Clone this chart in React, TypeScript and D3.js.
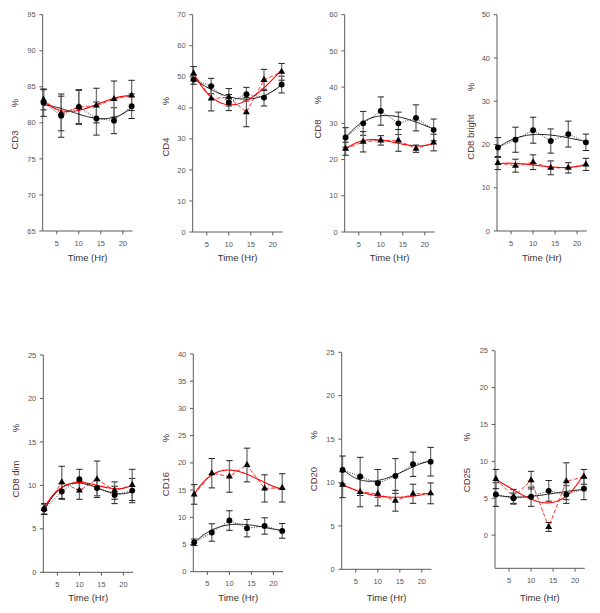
import React from 'react';
import * as d3 from 'd3';

// ---------- DATA ----------
const times = [2, 6, 10, 14, 18, 22];
const xTicks = [5, 10, 15, 20];
const panelNames = ['CD3', 'CD4', 'CD8', 'CD8 bright', 'CD8 dim', 'CD16', 'CD20', 'CD25'];
const yDomains = [[65, 95], [0, 70], [0, 60], [0, 50], [0, 25], [0, 40], [0, 25], [-4.5, 25]];
const yTickValues = [
  [65, 70, 75, 80, 85, 90, 95],
  [0, 10, 20, 30, 40, 50, 60, 70],
  [0, 10, 20, 30, 40, 50, 60],
  [0, 10, 20, 30, 40, 50],
  [0, 5, 10, 15, 20, 25],
  [0, 5, 10, 15, 20, 25, 30, 35, 40],
  [0, 5, 10, 15, 20, 25],
  [0, 5, 10, 15, 20, 25],
];

// triangle series (red lines) and circle series (black lines) – mean and error
const cd3Tri = [83.2, 81.3, 82.2, 82.4, 83.3, 83.8];
const cd3TriErr = [1.4, 2.4, 2.4, 2.4, 2.5, 2.1];
const cd3Circ = [82.8, 81.0, 82.2, 80.6, 80.3, 82.3];
const cd3CircErr = [1.9, 3.0, 2.3, 2.3, 1.8, 1.7];

const cd4Tri = [51.1, 43.0, 43.4, 38.6, 49.0, 51.6];
const cd4TriErr = [2.2, 4.0, 2.8, 4.7, 3.4, 2.7];
const cd4Circ = [49.1, 47.0, 41.7, 44.4, 43.3, 47.5];
const cd4CircErr = [1.5, 2.5, 2.6, 2.2, 2.7, 2.7];

const cd8Tri = [23.0, 24.9, 25.3, 25.3, 23.0, 24.7];
const cd8TriErr = [1.8, 2.8, 1.3, 3.0, 1.0, 2.3];
const cd8Circ = [26.1, 30.0, 33.4, 30.0, 31.5, 28.2];
const cd8CircErr = [2.7, 3.3, 3.9, 3.1, 3.6, 3.0];

const cd8bTri = [15.7, 15.1, 15.9, 14.6, 14.6, 15.4];
const cd8bTriErr = [1.5, 1.5, 1.7, 1.6, 1.2, 1.4];
const cd8bCirc = [19.3, 21.1, 23.3, 20.8, 22.4, 20.5];
const cd8bCircErr = [2.3, 2.9, 3.0, 2.8, 3.0, 1.9];

const cd8dTri = [7.3, 10.35, 9.4, 10.7, 9.4, 10.05];
const cd8dTriErr = [0.6, 1.85, 1.0, 2.1, 1.0, 1.8];
const cd8dCirc = [7.25, 9.3, 10.7, 9.7, 8.9, 9.4];
const cd8dCircErr = [0.6, 0.9, 1.15, 0.9, 1.0, 1.4];

const cd16Tri = [14.2, 18.1, 17.5, 19.6, 15.3, 15.4];
const cd16TriErr = [1.8, 2.7, 2.9, 3.1, 2.5, 2.6];
const cd16Circ = [5.4, 7.2, 9.4, 8.0, 8.4, 7.5];
const cd16CircErr = [0.6, 1.6, 1.8, 1.6, 1.5, 1.35];

const cd20Tri = [9.75, 8.9, 8.7, 7.9, 8.7, 8.75];
const cd20TriErr = [1.5, 1.7, 1.4, 1.2, 1.1, 1.2];
const cd20Circ = [11.45, 10.7, 9.9, 10.75, 12.1, 12.4];
const cd20CircErr = [1.6, 2.2, 1.6, 2.0, 1.4, 1.65];

const cd25Tri = [7.6, 5.2, 7.45, 1.1, 7.3, 7.9];
const cd25TriErr = [1.3, 1.0, 1.2, 0.6, 2.5, 1.0];
const cd25Circ = [5.5, 5.0, 5.2, 6.0, 5.5, 6.3];
const cd25CircErr = [1.6, 0.7, 1.3, 1.4, 1.2, 1.5];

const triMeans = [cd3Tri, cd4Tri, cd8Tri, cd8bTri, cd8dTri, cd16Tri, cd20Tri, cd25Tri];
const triErrs = [cd3TriErr, cd4TriErr, cd8TriErr, cd8bTriErr, cd8dTriErr, cd16TriErr, cd20TriErr, cd25TriErr];
const circMeans = [cd3Circ, cd4Circ, cd8Circ, cd8bCirc, cd8dCirc, cd16Circ, cd20Circ, cd25Circ];
const circErrs = [cd3CircErr, cd4CircErr, cd8CircErr, cd8bCircErr, cd8dCircErr, cd16CircErr, cd20CircErr, cd25CircErr];

// ---------- LAYOUT ----------
const X_DOMAIN = [1.8, 22.2];
const PANEL_W = 89.8;
const layout = [
  { x0: 42.7, top: 14.7, bottom: 231, nameX: 15, nameY: 140, pctY: 103, timeY: 261 },
  { x0: 192.7, top: 14.7, bottom: 232, nameX: 166, nameY: 147, pctY: 101, timeY: 261 },
  { x0: 344.7, top: 14.7, bottom: 232, nameX: 318, nameY: 129, pctY: 100, timeY: 261 },
  { x0: 497, top: 14.7, bottom: 231, nameX: 470.7, nameY: 137, pctY: 87, timeY: 261 },
  { x0: 43.3, top: 355, bottom: 572.3, nameX: 16, nameY: 479, pctY: 428, timeY: 601 },
  { x0: 193.3, top: 354, bottom: 571.7, nameX: 166, nameY: 484, pctY: 438, timeY: 601 },
  { x0: 341.7, top: 352.3, bottom: 569.3, nameX: 314, nameY: 479, pctY: 435, timeY: 601 },
  { x0: 495, top: 350.7, bottom: 568.3, nameX: 467, nameY: 480, pctY: 437, timeY: 601 },
];

const FONT = '"Liberation Sans", Arial, sans-serif';

// least-squares cubic fit, derived from the data
function cubicFit(xs: number[], ys: number[]) {
  const n = 4;
  const A = Array.from({ length: n }, () => Array(n).fill(0));
  const b = Array(n).fill(0);
  xs.forEach((x, i) => {
    const u = (x - 12) / 10;
    const p = [1, u, u * u, u * u * u];
    for (let r = 0; r < n; r++) {
      for (let c = 0; c < n; c++) A[r][c] += p[r] * p[c];
      b[r] += p[r] * ys[i];
    }
  });
  for (let i = 0; i < n; i++) {
    let piv = i;
    for (let r = i + 1; r < n; r++) if (Math.abs(A[r][i]) > Math.abs(A[piv][i])) piv = r;
    [A[i], A[piv]] = [A[piv], A[i]];
    [b[i], b[piv]] = [b[piv], b[i]];
    for (let r = i + 1; r < n; r++) {
      const f = A[r][i] / A[i][i];
      for (let c = i; c < n; c++) A[r][c] -= f * A[i][c];
      b[r] -= f * b[i];
    }
  }
  const coef = Array(n).fill(0);
  for (let i = n - 1; i >= 0; i--) {
    let s = b[i];
    for (let c = i + 1; c < n; c++) s -= A[i][c] * coef[c];
    coef[i] = s / A[i][i];
  }
  return (x: number) => {
    const u = (x - 12) / 10;
    return coef[0] + coef[1] * u + coef[2] * u * u + coef[3] * u * u * u;
  };
}

const fitXs = d3.range(2, 22.001, 0.25);

function Panel({ i }: { i: number }) {
  const L = layout[i];
  const x = d3.scaleLinear().domain(X_DOMAIN).range([L.x0, L.x0 + PANEL_W]);
  const y = d3.scaleLinear().domain(yDomains[i]).range([L.bottom, L.top]);
  const line = d3.line<[number, number]>().x(d => x(d[0])).y(d => y(d[1]));
  const tri = triMeans[i], triE = triErrs[i], circ = circMeans[i], circE = circErrs[i];
  const triFit = cubicFit(times, tri);
  const circFit = cubicFit(times, circ);
  const triPath = line(times.map((t, k) => [t, tri[k]]));
  const circPath = line(times.map((t, k) => [t, circ[k]]));
  const triFitPath = line(fitXs.map(t => [t, triFit(t)]));
  const circFitPath = line(fitXs.map(t => [t, circFit(t)]));
  const triSym = d3.symbol().type(d3.symbolTriangle).size(21)();
  const circSym = d3.symbol().type(d3.symbolCircle).size(27)();
  const cap = 3.2;
  const bars = (vals: number[], errs: number[], key: string) =>
    times.map((t, k) => {
      const cx = x(t);
      const y1 = y(vals[k] + errs[k]);
      const y2 = y(vals[k] - errs[k]);
      return (
        <g key={key + k}>
          <line x1={cx} x2={cx} y1={y1} y2={y2} stroke="#707070" strokeWidth={1.3} />
          <line x1={cx - cap} x2={cx + cap} y1={y1} y2={y1} stroke="#222" strokeWidth={1} />
          <line x1={cx - cap} x2={cx + cap} y1={y2} y2={y2} stroke="#222" strokeWidth={1} />
        </g>
      );
    });
  const cx0 = L.x0 + PANEL_W / 2;
  return (
    <g>
      {/* axes */}
      <line x1={L.x0} x2={L.x0} y1={L.top} y2={L.bottom} stroke="#5a5a5a" strokeWidth={1} />
      <line x1={L.x0} x2={L.x0 + PANEL_W} y1={L.bottom} y2={L.bottom} stroke="#5a5a5a" strokeWidth={1} />
      {yTickValues[i].map(v => (
        <g key={'yt' + v}>
          <line x1={L.x0 - 3.3} x2={L.x0} y1={y(v)} y2={y(v)} stroke="#5a5a5a" strokeWidth={1} />
          <text x={L.x0 - 7} y={y(v)} dy="0.35em" textAnchor="end" fontSize={7.5} fill="#555" fontFamily={FONT}>{v}</text>
        </g>
      ))}
      {xTicks.map(v => (
        <g key={'xt' + v}>
          <line x1={x(v)} x2={x(v)} y1={L.bottom} y2={L.bottom + 3.3} stroke="#5a5a5a" strokeWidth={1} />
          <text x={x(v)} y={L.bottom + 14.5} textAnchor="middle" fontSize={7.5} fill="#555" fontFamily={FONT}>{v}</text>
        </g>
      ))}
      <text x={cx0} y={L.timeY} textAnchor="middle" fontSize={9.5} fill="#333" fontFamily={FONT}>Time (Hr)</text>
      <text transform={`translate(${L.nameX},${L.nameY}) rotate(-90)`} textAnchor="middle" dy="0.35em" fontSize={9.5} fill="#5a3333" fontFamily={FONT}>{panelNames[i]}</text>
      <text transform={`translate(${L.nameX},${L.pctY}) rotate(-90)`} textAnchor="middle" dy="0.35em" fontSize={9.5} fill="#333" fontFamily={FONT}>%</text>
      {/* error bars */}
      {bars(circ, circE, 'c')}
      {bars(tri, triE, 't')}
      {/* connecting lines */}
      <path d={circPath || ''} fill="none" stroke="#000" strokeWidth={0.8} strokeDasharray="1,1.5" />
      <path d={triPath || ''} fill="none" stroke="#ff0000" strokeWidth={0.8} strokeDasharray="4,2" />
      {/* fitted curves */}
      <path d={circFitPath || ''} fill="none" stroke="#000" strokeWidth={0.9} />
      <path d={triFitPath || ''} fill="none" stroke="#ff0000" strokeWidth={1.1} />
      {/* markers */}
      {times.map((t, k) => (
        <path key={'cm' + k} d={circSym || ''} transform={`translate(${x(t)},${y(circ[k])})`} fill="#000" />
      ))}
      {times.map((t, k) => (
        <path key={'tm' + k} d={triSym || ''} transform={`translate(${x(t)},${y(tri[k])})`} fill="#000" />
      ))}
    </g>
  );
}

export default function App() {
  return (
    <svg width={600} height={613} style={{ position: 'absolute', left: 0, top: 0, background: '#fff' }}>
      <rect width={600} height={613} fill="#fff" />
      {panelNames.map((_, i) => <Panel key={i} i={i} />)}
    </svg>
  );
}
